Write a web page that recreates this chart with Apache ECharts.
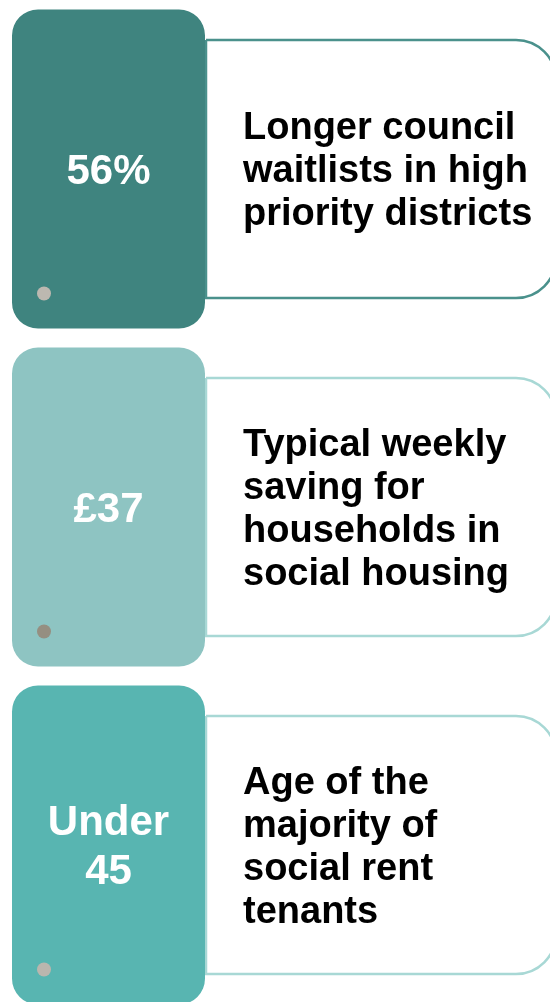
<!DOCTYPE html>
<html>
<head>
<meta charset="utf-8">
<script src="https://cdn.jsdelivr.net/npm/echarts@6/dist/echarts.min.js"></script>
<style>
  html, body { margin: 0; padding: 0; background: #fff; }
  #main { width: 550px; height: 1002px; }
</style>
</head>
<body>
<div id="main"></div>
<script>
// the three stat cards, top to bottom
var cards = ['waitlists', 'saving', 'age'];
var headlines = ['56%', '£37', 'Under\n45'];
var descriptions = [
  'Longer council\nwaitlists in high\npriority districts',
  'Typical weekly\nsaving for\nhouseholds in\nsocial housing',
  'Age of the\nmajority of\nsocial rent\ntenants'
];

var boxColors = ['#3f847f', '#8ec4c2', '#58b5b1'];
var lineColors = ['#4a918c', '#a8d8d5', '#a8d8d5'];
var dotColors = ['#bcb8b0', '#958f81', '#bab6ae'];

var myChart = echarts.init(document.getElementById('main'));

function renderCard(params, api) {
  var i = api.value(0);
  var cy = api.coord([0, i])[1];
  var band = api.size([0, 1])[1];
  var boxH = band * 0.944;
  var panelH = 258;
  var x0 = api.coord([12, i])[0];
  var x1 = api.coord([205, i])[0];
  var px0 = api.coord([206, i])[0];
  var px1 = api.coord([556, i])[0];
  var boxTop = cy - boxH / 2;
  return {
    type: 'group',
    children: [
      {
        type: 'rect',
        shape: { x: px0, y: cy - panelH / 2, width: px1 - px0, height: panelH, r: [0, 40, 40, 0] },
        style: { fill: '#fff', stroke: lineColors[i], lineWidth: 2.5 }
      },
      {
        type: 'rect',
        shape: { x: x0, y: boxTop, width: x1 - x0, height: boxH, r: 26 },
        style: { fill: boxColors[i] }
      },
      {
        type: 'circle',
        shape: { cx: x0 + 32, cy: boxTop + boxH - 35, r: 7 },
        style: { fill: dotColors[i] }
      },
      {
        type: 'text',
        style: {
          text: headlines[i], x: (x0 + x1) / 2, y: cy + 3,
          align: 'center', verticalAlign: 'middle',
          fill: '#fff', fontFamily: 'Liberation Sans', fontWeight: 'bold',
          fontSize: 42, lineHeight: 49
        }
      },
      {
        type: 'text',
        style: {
          text: descriptions[i], x: api.coord([243, i])[0], y: cy + 3,
          align: 'left', verticalAlign: 'middle',
          fill: '#000', fontFamily: 'Liberation Sans', fontWeight: 'bold',
          fontSize: 38, lineHeight: 43
        }
      }
    ]
  };
}

myChart.setOption({
  animation: false,
  grid: { left: 0, top: 0, width: 550, height: 1014, outerBoundsMode: 'none', containLabel: false },
  xAxis: { type: 'value', min: 0, max: 550, show: false },
  yAxis: { type: 'category', data: cards, inverse: true, show: false },
  series: [{
    type: 'custom',
    renderItem: renderCard,
    clip: false,
    data: cards.map(function (name, idx) { return [idx, name]; }),
    encode: { y: 0 }
  }]
});
</script>
</body>
</html>
